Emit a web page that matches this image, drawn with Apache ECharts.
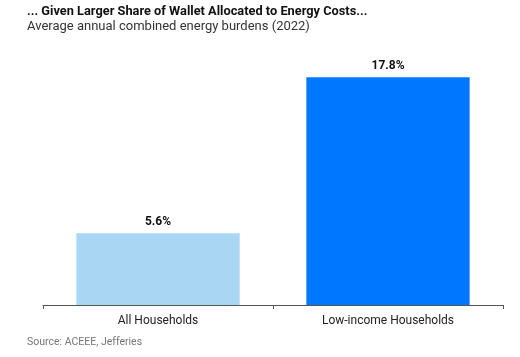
<!DOCTYPE html>
<html><head><meta charset="utf-8">
<script src="https://cdn.jsdelivr.net/npm/echarts@6/dist/echarts.min.js"></script>
<style>html,body{margin:0;padding:0;background:#fff}#c{width:520px;height:357px}</style>
</head><body><div id="c"></div>
<script>
const categories = ['All Households', 'Low-income Households'];
const values = [5.6, 17.8];
const colors = ['#a8d6f3', '#0077ff'];
const chart = echarts.init(document.getElementById('c'));
chart.setOption({
  animation: false,
  textStyle: {fontFamily: 'Roboto'},
  title: [
    {text: '... Given Larger Share of Wallet Allocated to Energy Costs...', left: 22, top: 0,
     textStyle: {fontFamily: 'Roboto', fontSize: 12.8, fontWeight: 'bold', color: '#111'}},
    {text: 'Average annual combined energy burdens (2022)', left: 22, top: 15,
     textStyle: {fontFamily: 'Roboto', fontSize: 13, fontWeight: 'normal', color: '#333'}},
    {text: 'Source: ACEEE, Jefferies', left: 22, top: 332,
     textStyle: {fontFamily: 'Roboto', fontSize: 10.5, fontWeight: 'normal', color: '#777'}}
  ],
  grid: {left: 43, right: 17, top: 49, bottom: 52},
  xAxis: {type: 'category', data: categories,
    axisLine: {lineStyle: {color: '#555'}},
    axisTick: {show: true, length: 4, lineStyle: {color: '#555'}},
    axisLabel: {color: '#222', fontSize: 12, margin: 10}},
  yAxis: {type: 'value', min: 0, max: 20, show: false, splitLine: {show: false}},
  series: [{type: 'bar', barWidth: '71%',
    data: values.map((v, i) => ({value: v, itemStyle: {color: colors[i]}})),
    label: {show: true, position: 'top', distance: 5, formatter: p => p.value.toFixed(1) + '%',
      fontSize: 12, fontWeight: 'bold', color: '#111'}}]
});
</script></body></html>
